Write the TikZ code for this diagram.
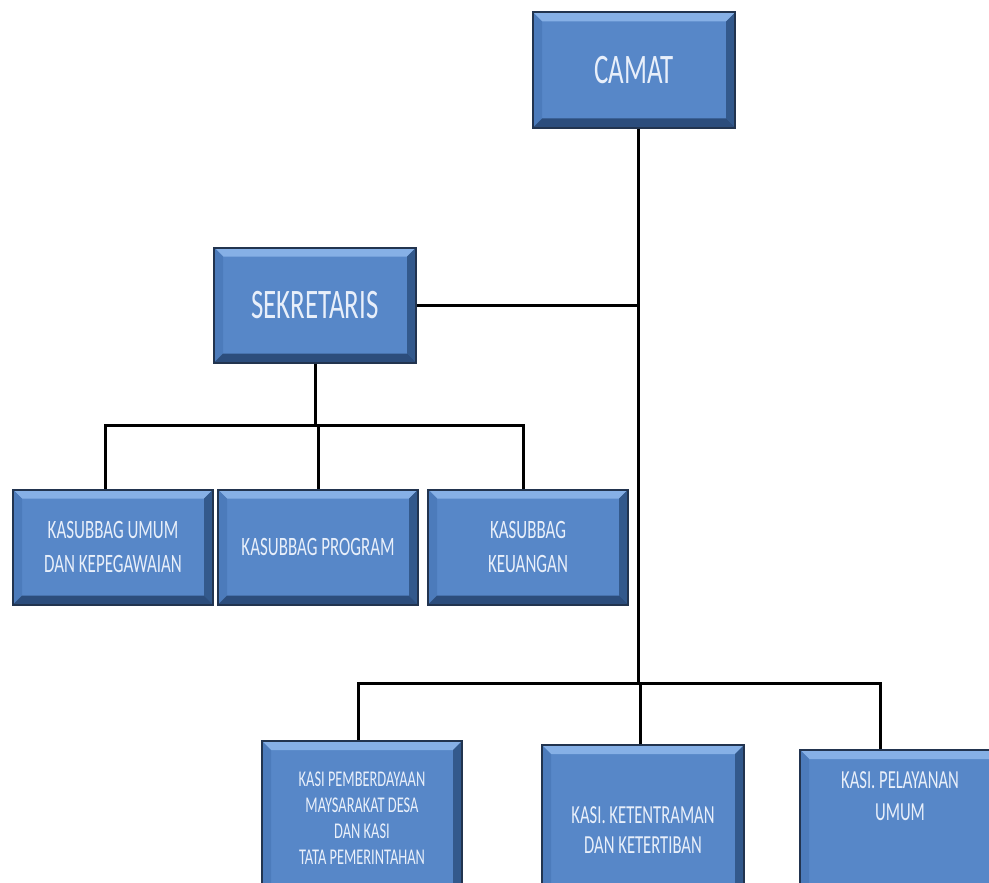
\documentclass[tikz,border=0pt]{standalone}
\usepackage{fontspec}
\setmainfont{Carlito}[FakeStretch=0.64]
\usepackage{tikz}
\usetikzlibrary{positioning}

\definecolor{boxface}{HTML}{5787C8}
\definecolor{boxedge}{HTML}{22344F}
\definecolor{bevtop}{HTML}{86B0E6}
\definecolor{bevleft}{HTML}{4C7BBB}
\definecolor{bevright}{HTML}{33598C}
\definecolor{bevbottom}{HTML}{2C4D7C}
\definecolor{boxtext}{HTML}{E8EFFA}

\newcommand{\liftby}[2]{\raisebox{#1}[0pt][0pt]{\begin{tabular}{@{}c@{}}#2\end{tabular}}}

\tikzset{
	orgbox/.style={rectangle, fill=boxface, draw=boxedge, line width=2pt,
		minimum width=200pt, minimum height=115pt, inner sep=0pt,
		text=boxtext, align=center, font=\fontsize{26.5}{34}\selectfont,
		path picture={
			\coordinate (bnw) at (path picture bounding box.north west);
			\coordinate (bne) at (path picture bounding box.north east);
			\coordinate (bsw) at (path picture bounding box.south west);
			\coordinate (bse) at (path picture bounding box.south east);
			\fill[bevtop] (bnw) -- (bne) -- ([shift={(-9pt,-9pt)}]bne) -- ([shift={(9pt,-9pt)}]bnw) -- cycle;
			\fill[bevleft] (bnw) -- ([shift={(9pt,-9pt)}]bnw) -- ([shift={(9pt,9pt)}]bsw) -- (bsw) -- cycle;
			\fill[bevright] (bne) -- (bse) -- ([shift={(-9pt,9pt)}]bse) -- ([shift={(-9pt,-9pt)}]bne) -- cycle;
			\fill[bevbottom] (bsw) -- ([shift={(9pt,9pt)}]bsw) -- ([shift={(-9pt,9pt)}]bse) -- (bse) -- cycle;
		}},
	bigbox/.style={orgbox, minimum width=202pt, font=\fontsize{42}{42}\selectfont},
	link/.style={line width=3pt, black}
}

\begin{document}
\begin{tikzpicture}[x=1pt, y=-1pt]
	\path[use as bounding box, clip] (0,0) rectangle (989,883);

	% pimpinan
	\node (camat) [bigbox] at (634,70) {CAMAT};
	\node (sekretaris) [bigbox] at (315,305) {SEKRETARIS};

	% sub bagian
	\node (umum) [orgbox] at (113,547) {KASUBBAG UMUM\\DAN KEPEGAWAIAN};
	\node (program) [orgbox, right=3pt of umum] {KASUBBAG PROGRAM};
	\node (keuangan) [orgbox, right=8pt of program] {KASUBBAG\\KEUANGAN};

	% seksi
	\node (pemberdayaan) [orgbox, minimum height=154pt, font=\fontsize{22.5}{26}\selectfont] at (362,818)
		{KASI PEMBERDAYAAN\\MAYSARAKAT DESA\\DAN KASI\\TATA PEMERINTAHAN};
	\node (ketentraman) [orgbox, minimum width=202pt, minimum height=170pt, font=\fontsize{26}{30}\selectfont] at (643,830)
		{KASI. KETENTRAMAN\\DAN KETERTIBAN};
	\node (pelayanan) [orgbox, minimum height=150pt, font=\fontsize{26}{32}\selectfont] at (900,825)
		{\liftby{21pt}{KASI. PELAYANAN\\UMUM}};

	\coordinate (trunk) at ([xshift=4pt]camat.south);
	\coordinate (row2bar) at (0,425);
	\coordinate (row3bar) at (0,683);

	\draw [link] (trunk) -- (trunk |- row3bar);
	\draw [link] (sekretaris.east) -- (sekretaris.east -| trunk);
	\draw [link] (sekretaris.south) -- (sekretaris.south |- row2bar);
	\draw [link] ([xshift=-8pt]umum.north) |- ([xshift=-5pt]keuangan.north |- row2bar) -- ([xshift=-5pt]keuangan.north);
	\draw [link] (program.north) -- (program.north |- row2bar);
	\draw [link] ([xshift=-4pt]pemberdayaan.north) |- ([xshift=-20pt]pelayanan.north |- row3bar) -- ([xshift=-20pt]pelayanan.north);
	\draw [link] ([xshift=-3pt]ketentraman.north) -- ([xshift=-3pt]ketentraman.north |- row3bar);
\end{tikzpicture}
\end{document}
